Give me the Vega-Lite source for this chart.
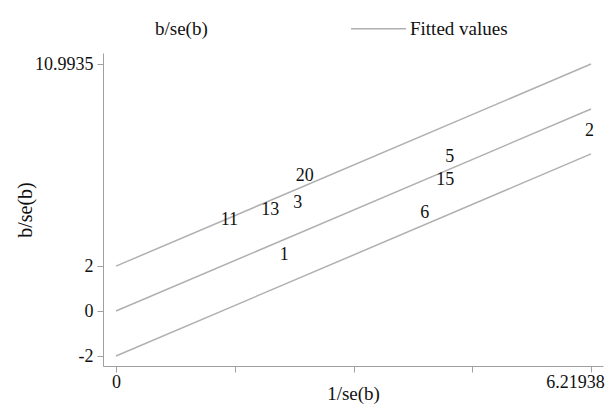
{
  "$schema": "https://vega.github.io/schema/vega-lite/v6.json",
  "width": 500,
  "height": 313,
  "autosize": "none",
  "padding": {"left": 103, "top": 53, "right": 13, "bottom": 46},
  "background": "white",
  "config": {"view": {"stroke": null}, "font": "Liberation Serif"},
  "datasets": {
    "studies": [
      {"study": "1", "x": 2.204, "y": 2.495, "series": "b/se(b)"},
      {"study": "2", "x": 6.2, "y": 8.013, "series": "b/se(b)"},
      {"study": "3", "x": 2.381, "y": 4.809, "series": "b/se(b)"},
      {"study": "5", "x": 4.371, "y": 6.878, "series": "b/se(b)"},
      {"study": "6", "x": 4.043, "y": 4.386, "series": "b/se(b)"},
      {"study": "11", "x": 1.484, "y": 4.053, "series": "b/se(b)"},
      {"study": "13", "x": 2.02, "y": 4.498, "series": "b/se(b)"},
      {"study": "15", "x": 4.312, "y": 5.855, "series": "b/se(b)"},
      {"study": "20", "x": 2.472, "y": 6.011, "series": "b/se(b)"}
    ],
    "fits": [
      {"line": "lower", "x": 0, "y": -2, "series": "Fitted values"},
      {"line": "lower", "x": 6.21938, "y": 6.9935, "series": "Fitted values"},
      {"line": "middle", "x": 0, "y": 0, "series": "Fitted values"},
      {"line": "middle", "x": 6.21938, "y": 8.9935, "series": "Fitted values"},
      {"line": "upper", "x": 0, "y": 2, "series": "Fitted values"},
      {"line": "upper", "x": 6.21938, "y": 10.9935, "series": "Fitted values"}
    ]
  },
  "encoding": {
    "x": {
      "field": "x",
      "type": "quantitative",
      "scale": {"domain": [-0.17, 6.376], "nice": false, "zero": false},
      "axis": {
        "values": [0, 1.554845, 3.10969, 4.664535, 6.21938],
        "labelExpr": "datum.value == 0 ? '0' : (datum.value > 6 ? '6.21938' : '')",
        "labelOffset": {"condition": {"test": "datum.value > 6", "value": -16}, "value": 0},
        "title": "1/se(b)",
        "grid": false,
        "domainColor": "#a0a0a0",
        "tickColor": "#a0a0a0",
        "tickSize": 6,
        "labelFontSize": 18,
        "labelFont": "Liberation Serif",
        "labelColor": "#111111",
        "labelPadding": 1,
        "labelFlush": false,
        "labelOverlap": false,
        "titleFontSize": 19,
        "titleFont": "Liberation Serif",
        "titleFontWeight": "normal",
        "titleColor": "#111111",
        "titlePadding": -7
      }
    },
    "y": {
      "field": "y",
      "type": "quantitative",
      "scale": {"domain": [-2.445, 11.485], "nice": false, "zero": false},
      "axis": {
        "values": [-2, 0, 2, 10.9935],
        "labelExpr": "datum.value > 10 ? '10.9935' : (datum.value == 2 ? '2' : (datum.value == 0 ? '0' : '-2'))",
        "title": "b/se(b)",
        "grid": false,
        "domainColor": "#a0a0a0",
        "tickColor": "#a0a0a0",
        "tickSize": 6,
        "labelFontSize": 18,
        "labelFont": "Liberation Serif",
        "labelColor": "#111111",
        "labelPadding": 4,
        "labelFlush": false,
        "labelOverlap": false,
        "titleFontSize": 20,
        "titleFont": "Liberation Serif",
        "titleFontWeight": "normal",
        "titleColor": "#111111",
        "titlePadding": -1
      }
    },
    "color": {
      "field": "series",
      "type": "nominal",
      "scale": {"domain": ["b/se(b)", "Fitted values"], "range": ["#111111", "#b0b0b0"]},
      "legend": {
        "orient": "none",
        "legendX": -8,
        "legendY": -53,
        "direction": "horizontal",
        "title": null,
        "symbolType": "stroke",
        "symbolSize": 3025,
        "symbolStrokeWidth": 1.5,
        "labelFontSize": 19,
        "labelFont": "Liberation Serif",
        "labelColor": "#111111",
        "labelOffset": 3,
        "columnPadding": 140,
        "padding": 0,
        "encode": {
          "symbols": {"update": {"opacity": {"signal": "datum.value === 'b/se(b)' ? 0 : 1"}}}
        }
      }
    }
  },
  "layer": [
    {
      "data": {"name": "fits"},
      "mark": {"type": "line", "strokeWidth": 1.5},
      "encoding": {"detail": {"field": "line"}}
    },
    {
      "data": {"name": "studies"},
      "mark": {"type": "text", "fontSize": 18, "font": "Liberation Serif", "align": "center", "baseline": "middle"},
      "encoding": {"text": {"field": "study"}}
    }
  ]
}
